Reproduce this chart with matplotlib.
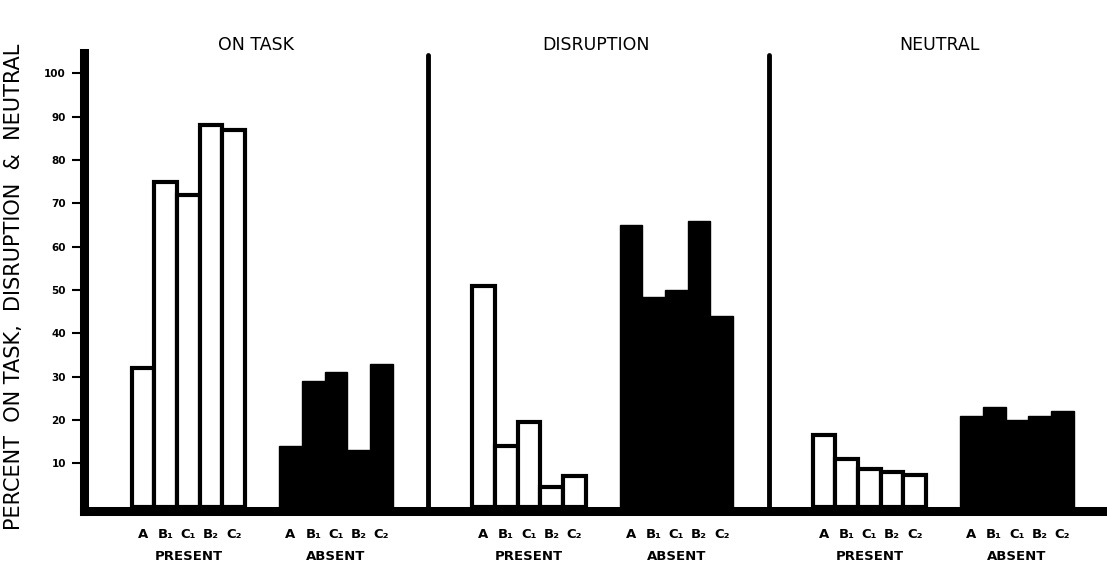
import matplotlib.pyplot as plt

# valeurs (pourcentages)
conditions = ['A', 'B₁', 'C₁', 'B₂', 'C₂']
panels = ['ON TASK', 'DISRUPTION', 'NEUTRAL']
on_task_present = [32, 75, 72, 88, 87]
on_task_absent = [14, 29, 31, 13, 33]
disruption_present = [51, 14, 19.5, 4.5, 7]
disruption_absent = [65, 48.5, 50, 66, 44]
neutral_present = [16.5, 11, 8.8, 8, 7.3]
neutral_absent = [21, 23, 20, 21, 22]
y_ticks = [10, 20, 30, 40, 50, 60, 70, 80, 90, 100]

data = [
    (on_task_present, on_task_absent),
    (disruption_present, disruption_absent),
    (neutral_present, neutral_absent),
]

fig = plt.figure(figsize=(11.07, 5.65), dpi=100)
W, H = 1107, 565
ax = fig.add_axes([84 / W, (H - 511) / H, (W - 84) / W, (511 - 53) / H])
ax.set_xlim(0, 45.07)
ax.set_ylim(-1, 104.7)

panel_step = 15.0
present_start = 2.1
absent_start = 8.6

centers = []
for p, (pres, absn) in enumerate(data):
    x0 = p * panel_step + present_start
    xs = [x0 + i for i in range(len(pres))]
    ax.bar(xs, pres, width=1, align='edge', bottom=0, color='white',
           edgecolor='black', linewidth=3, zorder=2)
    centers += [x + 0.5 for x in xs]
    x1 = p * panel_step + absent_start
    xs = [x1 + i for i in range(len(absn))]
    ax.bar(xs, absn, width=1, align='edge', bottom=0, color='black',
           edgecolor='black', linewidth=1, zorder=2)
    centers += [x + 0.5 for x in xs]

    # PRESENT / ABSENT sous chaque groupe
    for label, start in [('PRESENT', x0), ('ABSENT', x1)]:
        ax.annotate(label, xy=(start + 2.5, 0), xycoords=('data', 'axes fraction'),
                    xytext=(0, -33), textcoords='offset points', ha='center',
                    va='center', fontsize=9.5, fontweight='bold', annotation_clip=False)

# séparateurs verticaux entre les panneaux
for xd in [15.15, 30.2]:
    ax.plot([xd, xd], [-1, 104.3], color='black', linewidth=3.5, zorder=3,
            solid_capstyle='round')

for s in ['top', 'right']:
    ax.spines[s].set_visible(False)
ax.spines['left'].set_linewidth(6.5)
ax.spines['bottom'].set_linewidth(6.5)
ax.spines['left'].set_zorder(4)
ax.spines['bottom'].set_zorder(4)

ax.set_yticks(y_ticks)
ax.set_yticklabels([str(v) for v in y_ticks], fontsize=7.5, fontweight='bold')
ax.tick_params(axis='y', direction='out', length=9, width=1.5, pad=4)

ax.set_xticks(centers)
ax.set_xticklabels(conditions * 6, fontsize=9.5, fontweight='bold')
ax.tick_params(axis='x', length=0, pad=12)

# titres des panneaux
for title, xc in zip(panels, [256, 596, 939]):
    fig.text(xc / W, 1 - 45 / H, title, ha='center', va='center', fontsize=12.5)

fig.text(14 / W, 1 - 287 / H, 'PERCENT  ON TASK,  DISRUPTION  &  NEUTRAL',
         rotation=90, ha='center', va='center', fontsize=15)

plt.savefig('out.png', dpi=100)
